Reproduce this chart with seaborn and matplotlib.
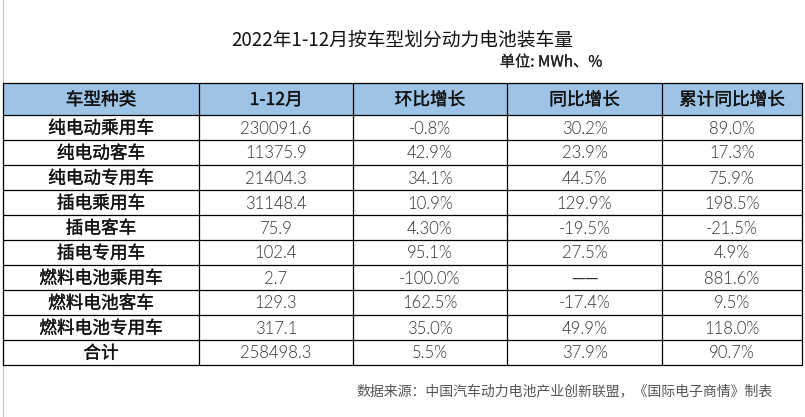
import matplotlib
matplotlib.use("Agg")
import matplotlib.pyplot as plt
import matplotlib.patheffects as pe
import seaborn as sns

# Set style
sns.set_theme(style="white")
plt.rcParams['font.family'] = ['Noto Sans CJK SC', 'DejaVu Sans']

# Data
title = "2022年1-12月按车型划分动力电池装车量"
unit_note = "单位: MWh、%"
source_note = "数据来源：中国汽车动力电池产业创新联盟，《国际电子商情》制表"
headers = ["车型种类", "1-12月", "环比增长", "同比增长", "累计同比增长"]
vehicle_types = ["纯电动乘用车", "纯电动客车", "纯电动专用车", "插电乘用车", "插电客车",
                 "插电专用车", "燃料电池乘用车", "燃料电池客车", "燃料电池专用车", "合计"]
install_mwh = ["230091.6", "11375.9", "21404.3", "31148.4", "75.9",
               "102.4", "2.7", "129.3", "317.1", "258498.3"]
mom_growth = ["-0.8%", "42.9%", "34.1%", "10.9%", "4.30%",
              "95.1%", "-100.0%", "162.5%", "35.0%", "5.5%"]
yoy_growth = ["30.2%", "23.9%", "44.5%", "129.9%", "-19.5%",
              "27.5%", "——", "-17.4%", "49.9%", "37.9%"]
cum_yoy_growth = ["89.0%", "17.3%", "75.9%", "198.5%", "-21.5%",
                  "4.9%", "881.6%", "9.5%", "118.0%", "90.7%"]

columns = [vehicle_types, install_mwh, mom_growth, yoy_growth, cum_yoy_growth]

# Layout (pixel coordinates of the table grid)
W, H = 805, 417
col_edges = [3, 199, 353, 507, 662, 802]
head_top, head_bot, row_h = 83, 115, 25
n_rows = len(vehicle_types)
row_edges = [head_top, head_bot] + [head_bot + row_h * (i + 1) for i in range(n_rows)]

fig = plt.figure(figsize=(W / 100, H / 100), dpi=100)
fig.patch.set_facecolor("white")

# Full-figure axes in pixel coordinates
ax = fig.add_axes([0, 0, 1, 1])
ax.set_xlim(0, W)
ax.set_ylim(H, 0)
ax.axis("off")

# slightly heavier CJK strokes, closer to the original font
heavy = [pe.withStroke(linewidth=0.22, foreground="#111111")]

# page edge line on the left
ax.plot([3, 3], [0, H], color="#c8c8c8", lw=0.8)

# header background
ax.fill_between([col_edges[0], col_edges[-1]], head_top, head_bot, color="#9dc3e6", lw=0)

# grid lines
for y in row_edges:
    ax.plot([col_edges[0], col_edges[-1]], [y, y], color="black", lw=0.9)
for x in col_edges:
    ax.plot([x, x], [head_top, row_edges[-1]], color="black", lw=0.9)

# header text
for j, h in enumerate(headers):
    xc = (col_edges[j] + col_edges[j + 1]) / 2
    ax.text(xc, (head_top + head_bot) / 2 + 1, h, ha="center", va="center",
            fontsize=12.7, color="#111111", path_effects=heavy)

# body text
for j, col in enumerate(columns):
    xc = (col_edges[j] + col_edges[j + 1]) / 2
    for i, val in enumerate(col):
        yc = (row_edges[i + 1] + row_edges[i + 2]) / 2 + 1
        if j == 0:
            ax.text(xc, yc, val, ha="center", va="center", fontsize=12.7,
                    color="#111111", path_effects=heavy)
        elif val.startswith("—"):
            # long dash joins up in the CJK font
            ax.text(xc, yc, val, ha="center", va="center", fontsize=11,
                    color="#333333")
        else:
            ax.text(xc, yc, val, ha="center", va="center", fontsize=12,
                    family=['Lato', 'Noto Sans CJK SC'], fontweight=300,
                    color="#333333")

# titles and notes
ax.text(402, 40, title, ha="center", va="center", fontsize=13.5, color="#111111")
ax.text(551, 62, unit_note, ha="center", va="center", fontsize=11,
        color="#222222", path_effects=[pe.withStroke(linewidth=0.15, foreground="#222222")])
ax.text(565, 391, source_note, ha="center", va="center", fontsize=10, color="#555555")

fig.savefig("out.png", dpi=100, facecolor="white")
